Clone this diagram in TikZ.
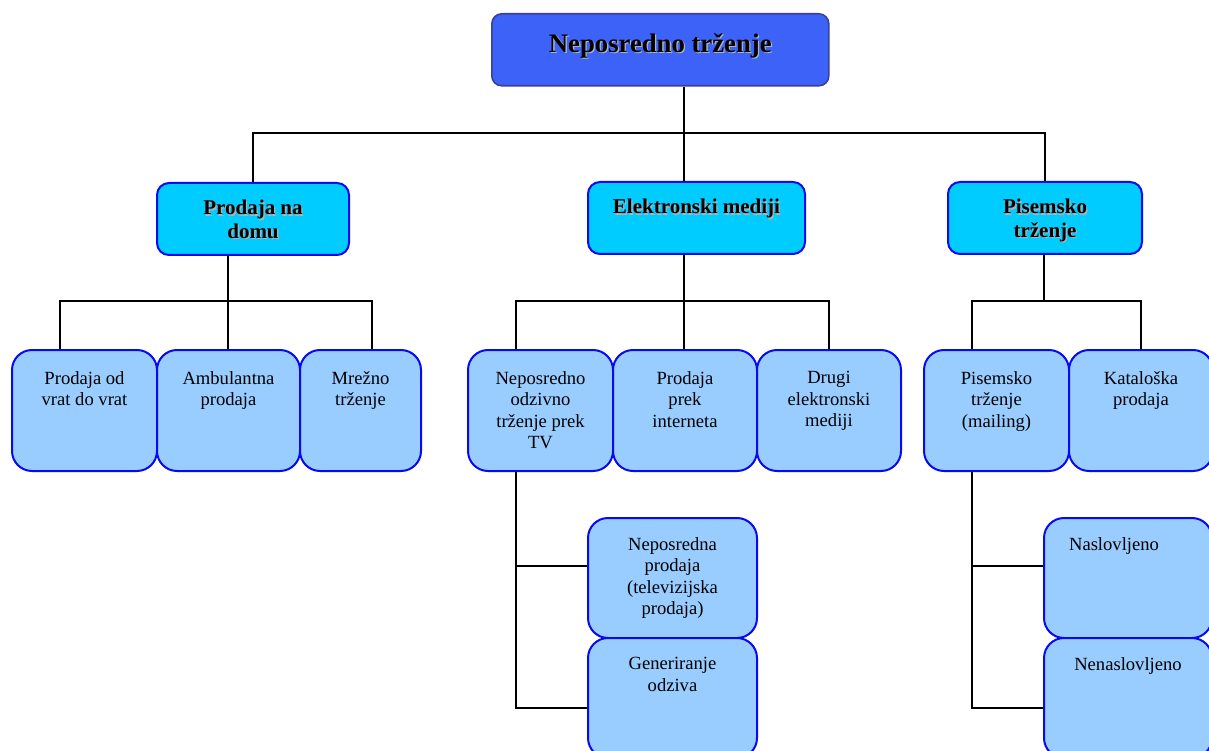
\documentclass[tikz,border=0pt]{standalone}
\usepackage{fontspec}
\setmainfont{Liberation Serif}
\usetikzlibrary{positioning}

\definecolor{topblue}{HTML}{3D62F7}
\definecolor{topline}{HTML}{3B3F9E}
\definecolor{midcyan}{HTML}{00CCFF}
\definecolor{leafblue}{HTML}{99CCFF}
\definecolor{boxline}{HTML}{0A0AF0}

% text with a grey drop shadow
\newcommand{\shad}[1]{\makebox[0pt][l]{\hspace{1.3pt}\raisebox{-1.3pt}{\textcolor{black!30}{#1}}}#1}

\begin{document}
\begin{tikzpicture}[x=1pt,y=-1pt,
  topbox/.style={draw=topline,line width=1.6pt,fill=topblue,rounded corners=10pt,anchor=north west,inner sep=0pt},
  midbox/.style={draw=boxline,line width=2pt,fill=midcyan,rounded corners=12pt,anchor=north west,inner sep=0pt,minimum height=72pt},
  leaf/.style={draw=boxline,line width=2pt,fill=leafblue,rounded corners=20pt,anchor=north west,inner sep=0pt},
  toptxt/.style={anchor=north,inner sep=0pt,font=\fontsize{26.7}{30}\selectfont\bfseries},
  midtxt/.style={anchor=north,inner sep=0pt,align=center,font=\fontsize{21}{23.5}\selectfont\bfseries},
  leaftxt/.style={anchor=north,inner sep=0pt,align=center,font=\fontsize{18.6}{21.5}\selectfont},
  conn/.style={draw=black,line width=1.8pt}]

\useasboundingbox (0,0) rectangle (1209,751);

% boxes
\node[topbox,minimum width=337pt,minimum height=72pt] (top) at (491,13) {};
\node[midbox,minimum width=192pt] (dom) at (156,182) {};
\node[midbox,minimum width=217pt] (elek) at (587,181) {};
\node[midbox,minimum width=194pt] (pis) at (947,181) {};

\node[leaf,minimum width=145pt,minimum height=121pt] (l1) at (11,349) {};
\node[leaf,minimum width=143pt,minimum height=121pt] (l2) at (156,349) {};
\node[leaf,minimum width=121pt,minimum height=121pt] (l3) at (299,349) {};
\node[leaf,minimum width=145pt,minimum height=121pt] (l4) at (467,349) {};
\node[leaf,minimum width=144pt,minimum height=121pt] (l5) at (612,349) {};
\node[leaf,minimum width=144pt,minimum height=121pt] (l6) at (756,349) {};
\node[leaf,minimum width=145pt,minimum height=121pt] (l7) at (923,349) {};
\node[leaf,minimum width=144pt,minimum height=121pt] (l8) at (1068,349) {};

\node[leaf,minimum width=169pt,minimum height=120pt] (s1) at (587,517) {};
\node[leaf,minimum width=169pt,minimum height=120pt] (s2) at (587,637) {};
\node[leaf,minimum width=168pt,minimum height=120pt] (s3) at (1043,517) {};
\node[leaf,minimum width=168pt,minimum height=120pt] (s4) at (1043,637) {};

% texts
\node[toptxt,below=20pt of top.north] (topt) {\shad{Neposredno trženje}};
\node[midtxt,below=18pt of dom.north] (domt) {\shad{Prodaja na}\\\shad{domu}};
\node[midtxt,below=18pt of elek.north] (elekt) {\shad{Elektronski mediji}};
\node[midtxt,below=18pt of pis.north] (pist) {\shad{Pisemsko}\\\shad{trženje}};

\node[leaftxt,below=22pt of l1.north] (l1t) {Prodaja od\\vrat do vrat};
\node[leaftxt,below=22pt of l2.north] (l2t) {Ambulantna\\prodaja};
\node[leaftxt,below=22pt of l3.north] (l3t) {Mrežno\\trženje};
\node[leaftxt,below=22pt of l4.north] (l4t) {Neposredno\\odzivno\\trženje prek\\TV};
\node[leaftxt,below=22pt of l5.north] (l5t) {Prodaja\\prek\\interneta};
\node[leaftxt,below=22pt of l6.north] (l6t) {Drugi\\elektronski\\mediji};
\node[leaftxt,below=22pt of l7.north] (l7t) {Pisemsko\\trženje\\(mailing)};
\node[leaftxt,below=22pt of l8.north] (l8t) {Kataloška\\prodaja};

\node[leaftxt,below=20pt of s1.north] (s1t) {Neposredna\\prodaja\\(televizijska\\prodaja)};
\node[leaftxt,below=20pt of s2.north] (s2t) {Generiranje\\odziva};
\node[leaftxt,below=20pt of s3.north,xshift=-14pt] (s3t) {Naslovljeno};
\node[leaftxt,below=20pt of s4.north] (s4t) {Nenaslovljeno};

% bus points
\coordinate (b0) at (684,133);
\coordinate (b1) at (228,301);
\coordinate (t1) at (60,301);
\coordinate (t3) at (372,301);
\coordinate (b2) at (684,301);
\coordinate (t4) at (516,301);
\coordinate (b3) at (1044,301);
\coordinate (t7) at (972,301);
\coordinate (u1) at (516,566);
\coordinate (v1) at (516,708);
\coordinate (u2) at (972,566);
\coordinate (v2) at (972,708);

% connectors
\draw[conn] (top.south -| b0) -- (b0);
\draw[conn] (dom.north) |- (pis.north |- b0) -- (pis.north);
\draw[conn] (b0) -- (b0 |- elek.north);

\draw[conn] (dom.south -| b1) -- (b1);
\draw[conn] (t1 |- l1.north) -- (t1) -- (t3) -- (t3 |- l3.north);
\draw[conn] (b1) -- (b1 |- l2.north);

\draw[conn] (elek.south -| b2) -- (b2);
\draw[conn] (t4 |- l4.north) -- (t4) -- (l6.north |- t4) -- (l6.north);
\draw[conn] (b2) -- (b2 |- l5.north);

\draw[conn] (pis.south -| b3) -- (b3);
\draw[conn] (t7 |- l7.north) -- (t7) -- (l8.north |- t7) -- (l8.north);

\draw[conn] (u1 |- l4.south) -- (v1) -- (v1 -| s2.west);
\draw[conn] (u1) -- (u1 -| s1.west);
\draw[conn] (u2 |- l7.south) -- (v2) -- (v2 -| s4.west);
\draw[conn] (u2) -- (u2 -| s3.west);

\end{tikzpicture}
\end{document}
